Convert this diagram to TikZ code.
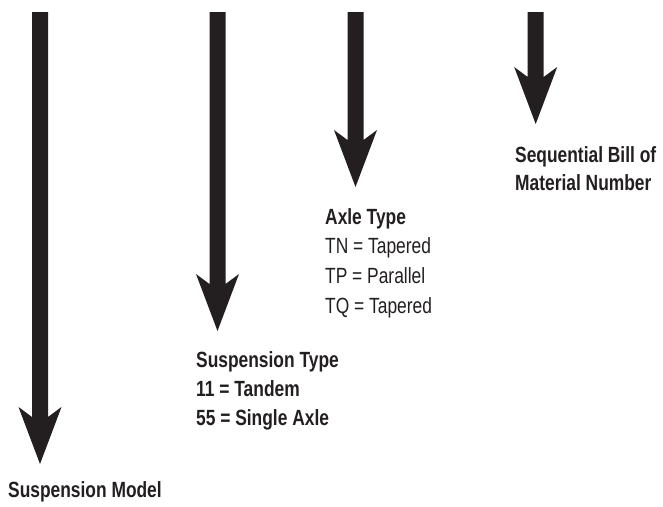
\documentclass[tikz,border=0pt]{standalone}
\usepackage{fontspec}
\setmainfont[FakeStretch=0.79]{Liberation Sans}
\definecolor{ink}{RGB}{35,31,32}
\newcommand\drawbigarrow[4]{%
  \coordinate (#1t) at (#2,#3);
  \coordinate (#1e) at (#2,#4);
  \fill[ink] ([xshift=-8pt]#1t) -- ([xshift=8pt]#1t)
    -- ([xshift=8pt,yshift=47pt]#1e) -- ([xshift=21.5pt,yshift=57pt]#1e)
    -- (#1e)
    -- ([xshift=-21.5pt,yshift=57pt]#1e) -- ([xshift=-8pt,yshift=47pt]#1e)
    -- cycle;}
\begin{document}
\begin{tikzpicture}[x=1pt,y=-1pt,
  lbl/.style={anchor=base west, inner sep=0pt, text=ink,
    font=\fontsize{22}{29}\selectfont},
  lblb/.style={lbl, font=\fontsize{22}{29}\selectfont\bfseries}]
\useasboundingbox (0,0) rectangle (663,506);
% arrows
\drawbigarrow{a1}{40}{12}{464}
\drawbigarrow{a2}{217.5}{12}{331}
\drawbigarrow{a3}{355.5}{12}{187}
\drawbigarrow{a4}{535.7}{12}{124}
% labels
\node[lblb] (smodel) at (8,497) {Suspension Model};
\node[lblb] (stype)  at (196,367) {Suspension Type};
\node[lblb] (stype1) at (196,396) {11 = Tandem};
\node[lblb] (stype2) at (196,425) {55 = Single Axle};
\node[lblb] (axle)   at (325,224) {Axle Type};
\node[lbl]  (axle1)  at (325,253.5) {TN = Tapered};
\node[lbl]  (axle2)  at (325,283.5) {TP = Parallel};
\node[lbl]  (axle3)  at (325,313) {TQ = Tapered};
\node[lblb] (seq1)   at (515,162) {Sequential Bill of};
\node[lblb] (seq2)   at (515,190) {Material Number};
\end{tikzpicture}
\end{document}
